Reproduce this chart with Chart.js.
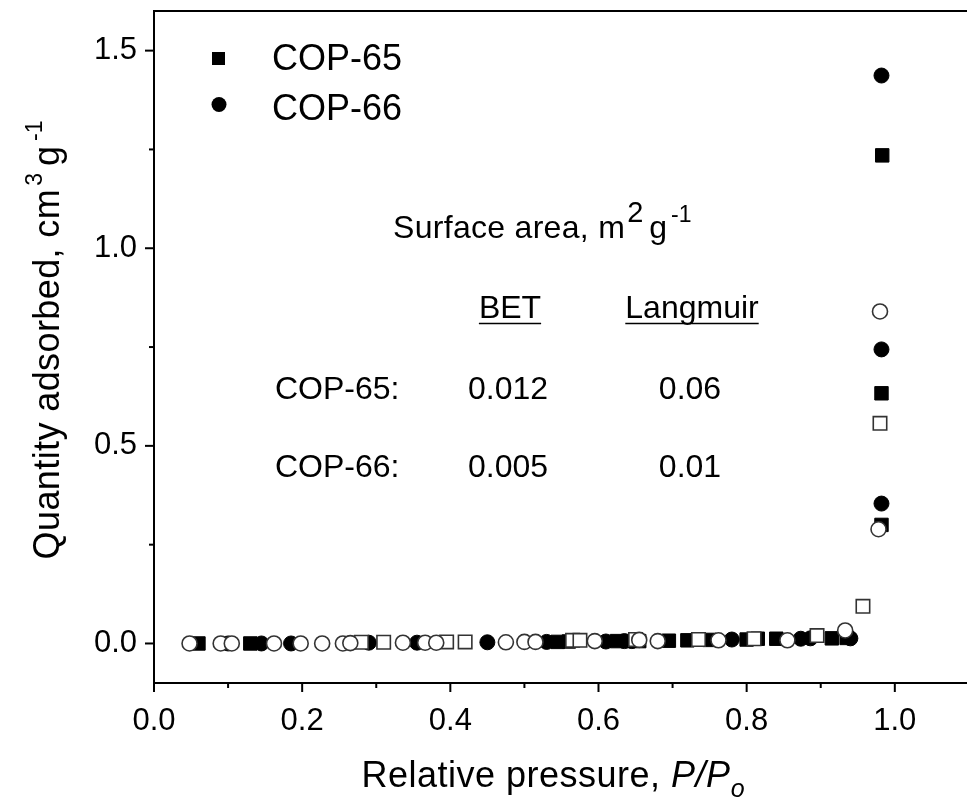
<!DOCTYPE html>
<html><head><meta charset="utf-8">
<script src="https://cdn.jsdelivr.net/npm/chart.js@4/dist/chart.umd.min.js"></script>
<style>
html,body{margin:0;padding:0;background:#fff;overflow:hidden;}
#wrap{position:relative;width:980px;height:806px;}
</style></head><body>
<div id="wrap"><canvas id="c"></canvas></div>
<script>
// ---- data ----
const cop65AdsX = [0.06, 0.13, 0.545, 0.56, 0.625, 0.655, 0.695, 0.72, 0.75, 0.80, 0.815, 0.84, 0.915, 0.935, 0.982, 0.982, 0.983];
const cop65AdsY = [0.0, 0.0, 0.004, 0.005, 0.006, 0.006, 0.007, 0.008, 0.009, 0.010, 0.012, 0.012, 0.013, 0.014, 0.30, 0.633, 1.235];
const cop65DesX = [0.28, 0.31, 0.395, 0.42, 0.565, 0.575, 0.65, 0.735, 0.81, 0.895, 0.957, 0.98];
const cop65DesY = [0.003, 0.003, 0.004, 0.004, 0.008, 0.008, 0.010, 0.010, 0.012, 0.020, 0.094, 0.557];
const cop66AdsX = [0.10, 0.145, 0.185, 0.29, 0.355, 0.45, 0.53, 0.61, 0.635, 0.645, 0.78, 0.873, 0.886, 0.94, 0.982, 0.982, 0.982];
const cop66AdsY = [0.0, 0.0, 0.0, 0.002, 0.002, 0.003, 0.004, 0.005, 0.006, 0.006, 0.010, 0.012, 0.013, 0.013, 0.354, 0.744, 1.437];
const cop66DesX = [0.048, 0.09, 0.105, 0.162, 0.198, 0.227, 0.255, 0.265, 0.336, 0.366, 0.381, 0.475, 0.50, 0.515, 0.595, 0.655, 0.68, 0.762, 0.855, 0.933, 0.978, 0.98];
const cop66DesY = [0.0, 0.0, 0.0, 0.0, 0.0, 0.0, 0.0, 0.001, 0.002, 0.002, 0.002, 0.003, 0.004, 0.004, 0.006, 0.009, 0.006, 0.008, 0.008, 0.033, 0.289, 0.84];
const xTickLabels = ['0.0', '0.2', '0.4', '0.6', '0.8', '1.0'];
const yTickLabels = ['0.0', '0.5', '1.0', '1.5'];
const seriesNames = ['COP-65', 'COP-66'];
const tableHeads = ['BET', 'Langmuir'];
const tableRows = ['COP-65:', 'COP-66:'];
const betValues = ['0.012', '0.005'];
const langmuirValues = ['0.06', '0.01'];

const FONT = "'Liberation Sans', Arial, sans-serif";
const pts = (xs, ys) => xs.map((x, i) => ({x: x, y: ys[i]}));

function setFont(ctx, p) {
  ctx.font = (p.italic ? 'italic ' : '') + p.size + 'px ' + FONT;
  if ('letterSpacing' in ctx) ctx.letterSpacing = (p.ls || 0) + 'px';
}
function richText(ctx, parts, x, y) {
  let cx = x;
  parts.forEach(p => {
    setFont(ctx, p);
    ctx.fillText(p.t, cx, y + (p.dy || 0));
    cx += ctx.measureText(p.t).width + (p.gap || 0);
  });
  if ('letterSpacing' in ctx) ctx.letterSpacing = '0px';
  return cx - x;
}
function richWidth(ctx, parts) {
  let w = 0;
  parts.forEach(p => {
    setFont(ctx, p);
    w += ctx.measureText(p.t).width + (p.gap || 0);
  });
  if ('letterSpacing' in ctx) ctx.letterSpacing = '0px';
  return w;
}

const decor = {
  id: 'decor',
  afterDraw(chart) {
    const ctx = chart.ctx, a = chart.chartArea;
    const xs = chart.scales.x, ys = chart.scales.y;
    ctx.save();
    ctx.strokeStyle = '#000'; ctx.fillStyle = '#000';
    // frame top & right
    ctx.lineWidth = 2;
    ctx.beginPath();
    ctx.moveTo(a.left, a.top); ctx.lineTo(a.right, a.top); ctx.lineTo(a.right, a.bottom);
    ctx.stroke();
    // tick marks
    for (let i = 0; i <= 11; i++) {
      const px = xs.getPixelForValue(i / 10);
      const len = i % 2 === 0 ? 9 : 5;
      ctx.beginPath(); ctx.moveTo(px, a.bottom); ctx.lineTo(px, a.bottom + len); ctx.stroke();
    }
    for (let i = 0; i <= 6; i++) {
      const py = ys.getPixelForValue(i * 0.25);
      const len = i % 2 === 0 ? 9 : 5;
      ctx.beginPath(); ctx.moveTo(a.left, py); ctx.lineTo(a.left - len, py); ctx.stroke();
    }
    // x title
    ctx.textBaseline = 'alphabetic'; ctx.textAlign = 'left';
    const xt = [
      {t: 'Relative pressure, ', size: 36, ls: 0.5},
      {t: 'P/P', size: 36, italic: true, ls: 0.5},
      {t: 'o', size: 25, italic: true, dy: 10}
    ];
    const xw = richWidth(ctx, xt);
    richText(ctx, xt, 553 - xw / 2, 787);
    // y title
    const yt = [
      {t: 'Quantity adsorbed, cm', size: 36, ls: 0.4, gap: 3},
      {t: '3', size: 23, dy: -17, gap: 7},
      {t: 'g', size: 36, gap: 5},
      {t: '-1', size: 23, dy: -17}
    ];
    const yw = richWidth(ctx, yt);
    ctx.save();
    ctx.translate(59, 340); ctx.rotate(-Math.PI / 2);
    richText(ctx, yt, -yw / 2, 0);
    ctx.restore();
    // legend
    ctx.fillRect(212, 52, 13, 13);
    ctx.beginPath(); ctx.arc(219, 104.5, 7.5, 0, Math.PI * 2); ctx.fill();
    ctx.font = '36px ' + FONT;
    ctx.fillText(seriesNames[0], 272, 70);
    ctx.fillText(seriesNames[1], 272, 120);
    // inset table
    richText(ctx, [
      {t: 'Surface area, m', size: 32, ls: 0.3, gap: 2},
      {t: '2', size: 29, dy: -16, gap: 6},
      {t: 'g', size: 32, gap: 4},
      {t: '-1', size: 23, dy: -16}
    ], 393, 238);
    ctx.font = '32px ' + FONT;
    ctx.textAlign = 'center';
    const colX = [510, 692];
    tableHeads.forEach((h, i) => {
      ctx.fillText(h, colX[i], 318);
      const w = ctx.measureText(h).width;
      ctx.lineWidth = 1.5;
      ctx.beginPath(); ctx.moveTo(colX[i] - w / 2, 323.5); ctx.lineTo(colX[i] + w / 2, 323.5); ctx.stroke();
    });
    const rowY = [399, 477];
    tableRows.forEach((r, i) => {
      ctx.textAlign = 'left';
      ctx.fillText(r, 275, rowY[i]);
      ctx.textAlign = 'center';
      ctx.fillText(betValues[i], 508, rowY[i]);
      ctx.fillText(langmuirValues[i], 690, rowY[i]);
    });
    ctx.restore();
  }
};

function zeroPad(s) { s.paddingTop = 0; s.paddingBottom = 0; s.paddingLeft = 0; s.paddingRight = 0; }

const openStyle = {backgroundColor: '#fff', borderColor: '#333', borderWidth: 1.6};
new Chart(document.getElementById('c'), {
  type: 'scatter',
  data: {
    datasets: [
      Object.assign({label: 'COP-66 desorption', data: pts(cop66DesX, cop66DesY), pointStyle: 'circle', pointRadius: 7.5}, openStyle),
      Object.assign({label: 'COP-65 desorption', data: pts(cop65DesX, cop65DesY), pointStyle: 'rect', pointRadius: 9.5}, openStyle),
      {label: seriesNames[1], data: pts(cop66AdsX, cop66AdsY), pointStyle: 'circle', pointRadius: 7.5, backgroundColor: '#000', borderColor: '#000', borderWidth: 1},
      {label: seriesNames[0], data: pts(cop65AdsX, cop65AdsY), pointStyle: 'rect', pointRadius: 9.5, backgroundColor: '#000', borderColor: '#000', borderWidth: 1}
    ]
  },
  options: {
    responsive: true, maintainAspectRatio: false, animation: false,
    layout: {padding: {left: 0, top: 9, right: 5, bottom: 0}},
    plugins: {legend: {display: false}, tooltip: {enabled: false}},
    scales: {
      x: {
        type: 'linear', min: 0, max: 1.1,
        afterFit: s => { s.height = 123; zeroPad(s); },
        grid: {display: false, drawTicks: false},
        border: {display: true, color: '#000', width: 2},
        ticks: {
          stepSize: 0.1, autoSkip: false, maxRotation: 0, padding: 20, color: '#000',
          font: {family: FONT, size: 31},
          callback: v => { const i = Math.round(v * 10); return (i % 2 === 0 && i / 2 < xTickLabels.length) ? xTickLabels[i / 2] : ''; }
        }
      },
      y: {
        type: 'linear', min: -0.1, max: 1.6,
        afterFit: s => { s.width = 154; zeroPad(s); },
        grid: {display: false, drawTicks: false},
        border: {display: true, color: '#000', width: 2},
        ticks: {
          stepSize: 0.25, includeBounds: false, autoSkip: false, padding: 17, color: '#000',
          font: {family: FONT, size: 31},
          callback: v => { const i = Math.round(v * 4); return (i >= 0 && i % 2 === 0) ? (yTickLabels[i / 2] || '') : ''; }
        }
      }
    }
  },
  plugins: [decor]
});
</script>
</body></html>
